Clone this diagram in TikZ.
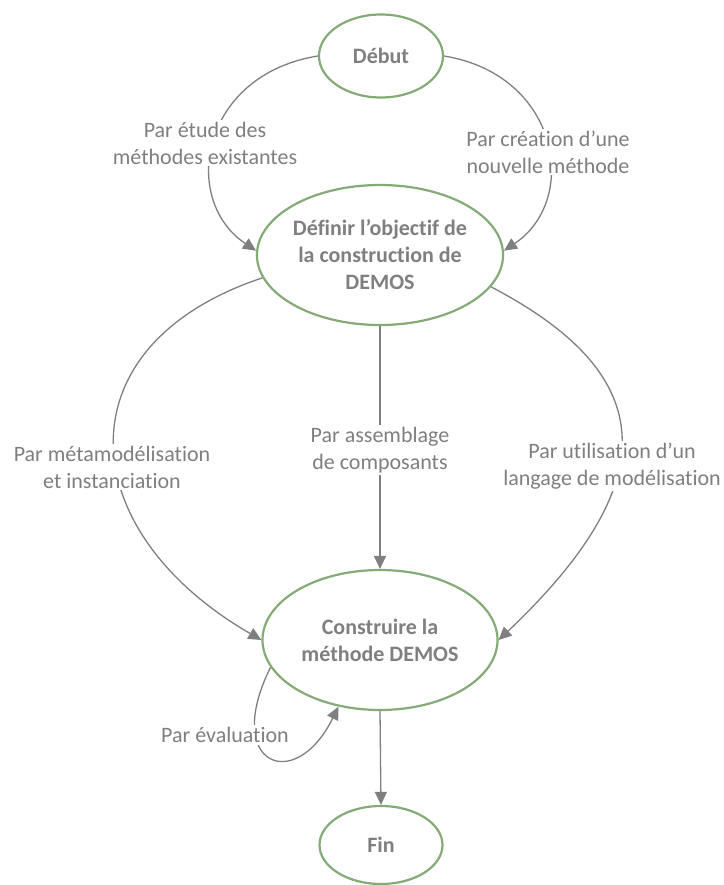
\documentclass[tikz,border=0pt]{standalone}
\usepackage{fontspec}
\setmainfont{Carlito}[Ligatures={NoCommon}]
\usetikzlibrary{shapes.geometric,arrows.meta}
\definecolor{txtgray}{RGB}{127,127,127}
\definecolor{linegray}{RGB}{127,127,127}
\definecolor{nodegreen}{RGB}{132,170,120}
\tikzset{
  stage/.style={ellipse, draw=nodegreen, line width=2.2pt, inner sep=0pt, align=center,
    text=txtgray, font=\fontsize{22}{27}\selectfont\bfseries},
  lbl/.style={fill=white, inner sep=2pt, align=center, text=txtgray,
    font=\fontsize{22}{27}\selectfont},
  conn/.style={draw=linegray, line width=1.3pt, -{Triangle[length=13pt,width=12pt]}},
  plainconn/.style={draw=linegray, line width=1.3pt}
}
\begin{document}
\begin{tikzpicture}[x=1pt,y=-1pt]
\useasboundingbox (0,0) rectangle (723,885);
% nodes
\node[stage, minimum width=124pt, minimum height=83pt] (debut) at (381,56) {Début};
\node[stage, minimum width=234pt, minimum height=140pt] (definir) at (380,255) {Définir l’objectif de\\la construction de\\DEMOS};
\node[stage, minimum width=235pt, minimum height=140pt] (construire) at (380,640) {Construire la\\méthode DEMOS};
\node[stage, minimum width=123pt, minimum height=78pt] (fin) at (381,845) {Fin};
% connectors
\draw[conn] (debut.west) .. controls (200,75) and (180,200) .. (definir.178);
\draw[conn] (debut.east) .. controls (560,75) and (580,200) .. (definir.2);
\draw[conn] (definir.191) .. controls (60,345) and (71,530) .. (construire.west);
\draw[conn] (definir.344) .. controls (650,370) and (675,473) .. (construire.east);
\draw[conn] (definir.south) -- (construire.north);
\draw[conn] (construire.194) .. controls (222,765) and (295,795) .. (construire.238);
\draw[conn] (construire.south) -- (fin.north);
% labels
\node[lbl] (l1) at (205,143) {Par étude des\\méthodes existantes};
\node[lbl] (l2) at (548,152) {Par création d’une\\nouvelle méthode};
\node[lbl] (l3) at (112,467) {Par métamodélisation\\et instanciation};
\node[lbl] (l4) at (380,450) {Par assemblage\\de composants};
\node[lbl] (l5) at (612,466) {Par utilisation d’un\\langage de modélisation};
\node[lbl] (l6) at (225,735) {Par évaluation};
\end{tikzpicture}
\end{document}
